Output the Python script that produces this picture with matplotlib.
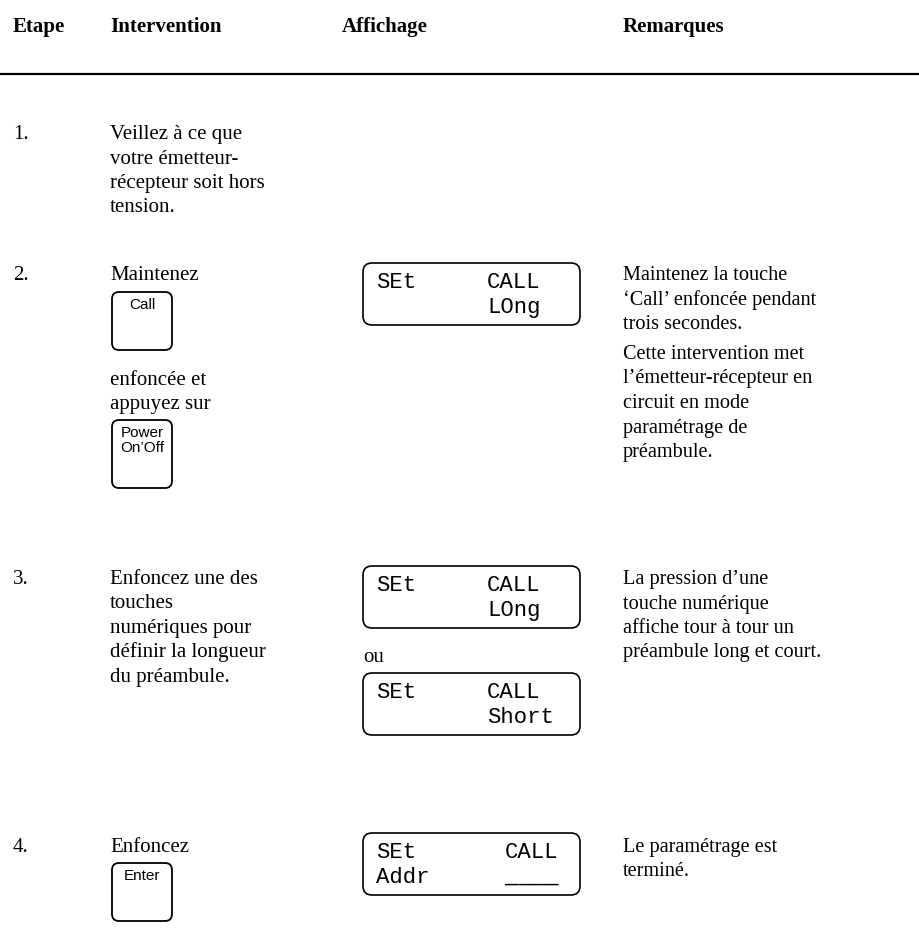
import matplotlib.pyplot as plt
from matplotlib.patches import FancyBboxPatch

headers = ["Etape", "Intervention", "Affichage", "Remarques"]
step_numbers = ["1.", "2.", "3.", "4."]

action_1 = ["Veillez à ce que", "votre émetteur-", "récepteur soit hors", "tension."]
action_2a = ["Maintenez"]
action_2b = ["enfoncée et", "appuyez sur"]
action_3 = ["Enfoncez une des", "touches", "numériques pour",
            "définir la longueur", "du préambule."]
action_4 = ["Enfoncez"]

remark_2a = ["Maintenez la touche", "‘Call’ enfoncée pendant", "trois secondes."]
remark_2b = ["Cette intervention met", "l’émetteur-récepteur en",
             "circuit en mode", "paramétrage de", "préambule."]
remark_3 = ["La pression d’une", "touche numérique",
            "affiche tour à tour un", "préambule long et court."]
remark_4 = ["Le paramétrage est", "terminé."]

key_labels = ["Call", "Power\nOn’Off", "Enter"]

# each display: (top left, top right, bottom left, bottom right)
lcd_2 = ("SEt", "CALL", "", "LOng")
lcd_3a = ("SEt", "CALL", "", "LOng")
lcd_3b = ("SEt", "CALL", "", "Short")
lcd_4 = ("SEt", "CALL", "Addr", "____")
or_label = "ou"

plt.rcParams["font.family"] = ["Liberation Serif", "DejaVu Serif"]

fig = plt.figure(figsize=(9.19, 9.51), dpi=100)
ax = fig.add_axes([0, 0, 1, 1])
ax.set_xlim(0, 919)
ax.set_ylim(951, 0)
ax.axis("off")

BODY = 15
LINE = 24.5
X_NUM, X_ACT, X_LCD, X_REM = 13, 110, 363, 623


def lines(x, y, rows, size=BODY):
    for i, r in enumerate(rows):
        ax.text(x, y + i * LINE, r, fontsize=size, va="baseline")


def key(y, h, label):
    ax.add_patch(FancyBboxPatch((112, y), 60, h,
                                boxstyle="round,pad=0,rounding_size=7",
                                fc="white", ec="black", lw=1.3))
    ax.text(142, y + 6, label, family="Liberation Sans", fontsize=11,
            ha="center", va="top", linespacing=1.1)


def lcd(y, content, right_x=487):
    ax.add_patch(FancyBboxPatch((363, y), 217, 62,
                                boxstyle="round,pad=0,rounding_size=9",
                                fc="white", ec="black", lw=1.2))
    tl, tr, bl, br = content
    kw = dict(family="Liberation Mono", fontsize=16, va="baseline")
    ax.text(376, y + 25, tl, **kw)
    ax.text(right_x, y + 25, tr, **kw)
    ax.text(376, y + 50, bl, **kw)
    ax.text(right_x, y + 50, br, **kw)


# header
for x, h in zip([13, X_ACT, 342, X_REM], headers):
    ax.text(x, 32, h, fontsize=BODY, fontweight="bold", va="baseline")
ax.plot([0, 919], [74, 74], color="black", lw=1.6)

# step numbers
for y, s in zip([139, 280, 584, 852], step_numbers):
    ax.text(X_NUM, y, s, fontsize=BODY, va="baseline")

# step 1
lines(X_ACT, 139, action_1)

# step 2
lines(X_ACT, 280, action_2a)
key(292, 58, key_labels[0])
lines(X_ACT, 385, action_2b)
key(420, 68, key_labels[1])
lcd(263, lcd_2)
lines(X_REM, 280, remark_2a, size=14.6)
lines(X_REM, 359, remark_2b, size=14.6)

# step 3
lines(X_ACT, 584, action_3)
lcd(566, lcd_3a)
ax.text(X_LCD, 662, or_label, fontsize=BODY, va="baseline")
lcd(673, lcd_3b)
lines(X_REM, 584, remark_3, size=14.6)

# step 4
lines(X_ACT, 852, action_4)
key(863, 58, key_labels[2])
lcd(833, lcd_4, right_x=505)
lines(X_REM, 852, remark_4, size=14.6)

fig.savefig("out.png", dpi=100)
